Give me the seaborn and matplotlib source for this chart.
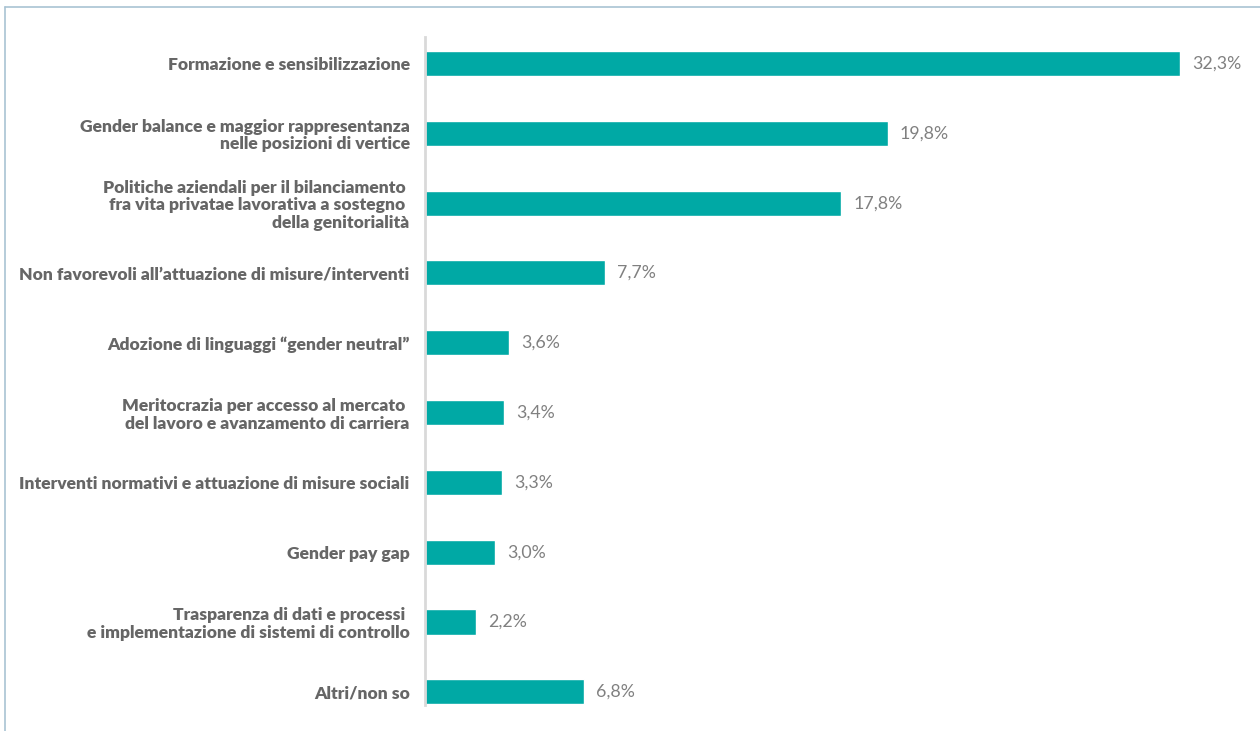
import matplotlib
matplotlib.use("Agg")
import matplotlib.pyplot as plt
from matplotlib.lines import Line2D
import seaborn as sns
import pandas as pd

categories = [
    "Formazione e sensibilizzazione",
    "Gender balance e maggior rappresentanza\nnelle posizioni di vertice",
    "Politiche aziendali per il bilanciamento \nfra vita privatae lavorativa a sostegno \ndella genitorialità",
    "Non favorevoli all\u2019attuazione di misure/interventi",
    "Adozione di linguaggi \u201cgender neutral\u201d",
    "Meritocrazia per accesso al mercato \ndel lavoro e avanzamento di carriera",
    "Interventi normativi e attuazione di misure sociali",
    "Gender pay gap",
    "Trasparenza di dati e processi \ne implementazione di sistemi di controllo",
    "Altri/non so",
]
values = [32.3, 19.8, 17.8, 7.7, 3.6, 3.4, 3.3, 3.0, 2.2, 6.8]
value_labels = ["32,3%", "19,8%", "17,8%", "7,7%", "3,6%", "3,4%", "3,3%", "3,0%", "2,2%", "6,8%"]

df = pd.DataFrame({"categoria": categories, "valore": values})

sns.set_theme(style="white")
plt.rcParams["font.family"] = ["Lato", "DejaVu Sans"]

BAR_COLOR = "#00A9A5"
LABEL_COLOR = "#666666"
VALUE_COLOR = "#808080"

fig = plt.figure(figsize=(12.6, 7.31), dpi=100)
ax = fig.add_axes([425 / 1260, 1 - 705 / 731, (1180 - 425) / 1260, (705 - 37) / 731])

sns.barplot(data=df, x="valore", y="categoria", color=BAR_COLOR, width=0.36,
            saturation=1, ax=ax, orient="h")

ax.set_xlim(0, 32.3)
ax.set_ylim(9.19, -0.38)
ax.set_xlabel("")
ax.set_ylabel("")
ax.set_xticks([])

for s in ["top", "right", "bottom"]:
    ax.spines[s].set_visible(False)
ax.spines["left"].set_color("#d9d9d9")
ax.spines["left"].set_linewidth(2)

ax.tick_params(axis="y", length=0, pad=11)
for lbl in ax.get_yticklabels():
    lbl.set_fontweight("heavy")
    lbl.set_fontsize(12.6)
    lbl.set_color(LABEL_COLOR)
    lbl.set_linespacing(1.12)
    lbl.set_horizontalalignment("right")
    lbl.set_multialignment("right")

for i, (v, t) in enumerate(zip(values, value_labels)):
    ax.annotate(t, xy=(v, i), xytext=(12, 0), textcoords="offset pixels",
                va="center", ha="left", fontsize=12.8, fontweight="normal",
                color=VALUE_COLOR)

# light frame around the panel
frame_color = "#a9c3d3"
fig.add_artist(Line2D([5 / 1260, 1.0], [1 - 7 / 731, 1 - 7 / 731],
                      transform=fig.transFigure, color=frame_color, lw=1.2))
fig.add_artist(Line2D([5 / 1260, 5 / 1260], [0.0, 1 - 7 / 731],
                      transform=fig.transFigure, color=frame_color, lw=1.2))

fig.savefig("out.png", dpi=100)
